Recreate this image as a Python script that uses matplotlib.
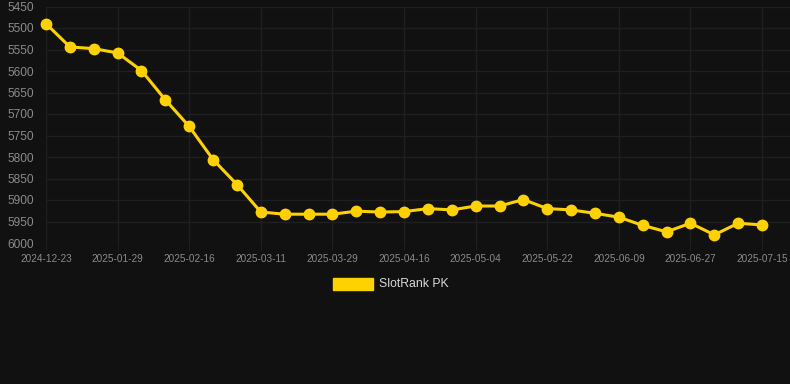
import matplotlib.pyplot as plt
from matplotlib.patches import Rectangle

# weekly-ish snapshots, only every third one gets a label on the axis
dates = ['2024-12-23', '2025-01-04', '2025-01-16', '2025-01-29', '2025-02-04',
         '2025-02-10', '2025-02-16', '2025-02-24', '2025-03-03', '2025-03-11',
         '2025-03-17', '2025-03-23', '2025-03-29', '2025-04-04', '2025-04-10',
         '2025-04-16', '2025-04-22', '2025-04-28', '2025-05-04', '2025-05-10',
         '2025-05-16', '2025-05-22', '2025-05-28', '2025-06-03', '2025-06-09',
         '2025-06-15', '2025-06-21', '2025-06-27', '2025-07-03', '2025-07-09',
         '2025-07-15']
rank = [5490, 5544, 5548, 5558, 5599, 5667, 5729, 5806, 5864, 5928,
        5933, 5933, 5933, 5926, 5928, 5927, 5920, 5923, 5914, 5914,
        5899, 5920, 5923, 5931, 5940, 5959, 5974, 5954, 5981, 5954,
        5958]
series_name = 'SlotRank PK'

bg = '#111111'
gold = '#FFD100'
grid = '#1f1f1f'
tick_col = '#8a8a8a'

fig = plt.figure(figsize=(7.9, 3.84), dpi=100, facecolor=bg)
ax = fig.add_axes([46 / 790, 1 - 243 / 384, 1 - 46 / 790, (243 - 6.5) / 384])
ax.set_facecolor(bg)

x = list(range(len(rank)))
ax.plot(x, rank, color=gold, lw=2.2, marker='o', ms=7.5, mec=gold, mfc=gold,
        clip_on=False, zorder=3)

ax.set_xlim(0, 31.17)
ax.set_ylim(6000, 5450)
ax.set_yticks(range(5450, 6001, 50))
ax.set_xticks(x[::3])
ax.set_xticklabels(dates[::3])

ax.grid(True, color=grid, lw=1)
ax.set_axisbelow(True)
for s in ax.spines.values():
    s.set_visible(False)
ax.tick_params(axis='y', length=0, pad=9, labelsize=8.6, labelcolor=tick_col)
ax.tick_params(axis='x', length=5, color=grid, pad=3, labelsize=7.2,
               labelcolor=tick_col)
for lab in ax.get_xticklabels() + ax.get_yticklabels():
    lab.set_fontfamily('Liberation Sans')

# legend below the plot
fig.patches.append(Rectangle((333 / 790, 1 - 290 / 384), 40 / 790, 12 / 384,
                             transform=fig.transFigure, color=gold))
fig.text(379 / 790, 1 - 284 / 384, series_name, color='#d8d8d8', fontsize=8.8,
         family='Liberation Sans', va='center', ha='left')

fig.savefig('out.png', dpi=100, facecolor=bg)
